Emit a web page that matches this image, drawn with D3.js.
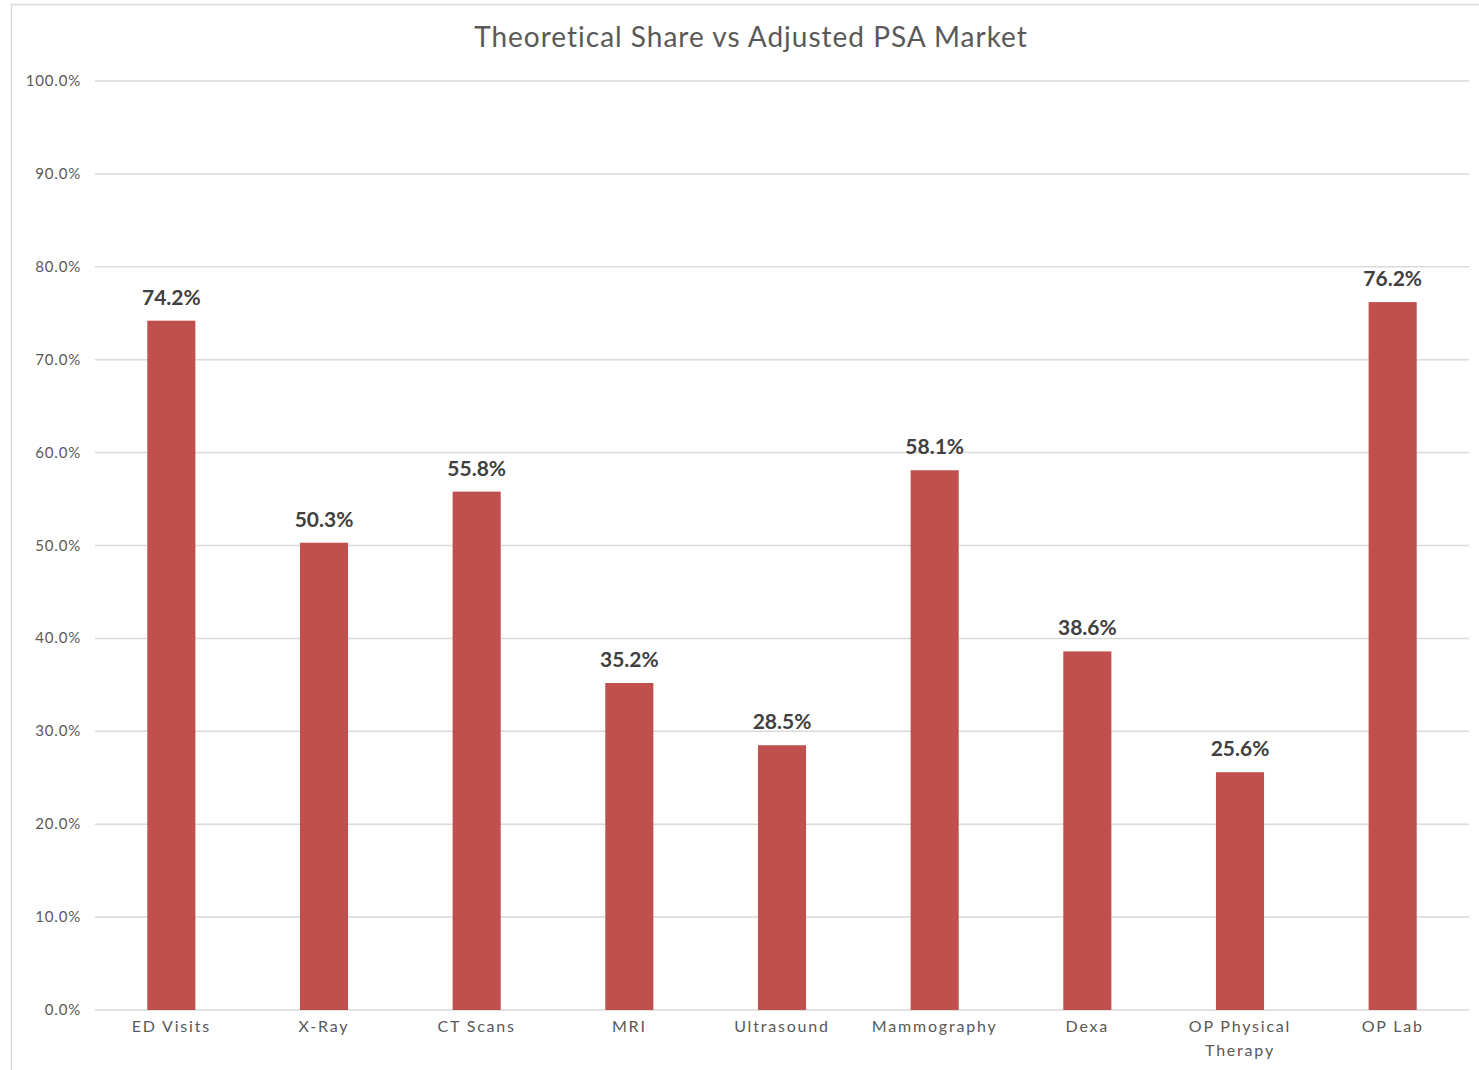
<!doctype html>
<html>
<head>
<meta charset="UTF-8">
<title>Theoretical Share vs Adjusted PSA Market</title>
<script src="https://d3js.org/d3.v7.min.js"></script>
<style>
  body { margin: 0; background: #fff; }
  text { font-family: Lato, "Noto Sans", sans-serif; }
</style>
</head>
<body>
<svg id="chart" width="1479" height="1070"></svg>
<script>
// data
var categories = ["ED Visits", "X-Ray", "CT Scans", "MRI", "Ultrasound", "Mammography", "Dexa", "OP Physical Therapy", "OP Lab"];
var shares = [74.2, 50.3, 55.8, 35.2, 28.5, 58.1, 38.6, 25.6, 76.2];
var yTicks = [0, 10, 20, 30, 40, 50, 60, 70, 80, 90, 100];

var svg = d3.select("#chart");

// outer frame
svg.append("rect")
  .attr("x", 11.5).attr("y", 4.5)
  .attr("width", 1500).attr("height", 1100)
  .attr("fill", "none").attr("stroke", "#d9d9d9").attr("stroke-width", 1.5);

var plotL = 95, plotR = 1469, plotT = 81, plotB = 1010;

var x = d3.scaleBand().domain(categories).range([plotL, plotR]).paddingInner(0.685).paddingOuter(0.3425);
var y = d3.scaleLinear().domain([0, 100]).range([plotB, plotT]);

// gridlines
svg.append("g").selectAll("line")
  .data(yTicks)
  .enter().append("line")
  .attr("x1", plotL).attr("x2", plotR)
  .attr("y1", function(d){ return y(d); })
  .attr("y2", function(d){ return y(d); })
  .attr("stroke", "#d9d9d9").attr("stroke-width", 1.5);

// y tick labels
svg.append("g").selectAll("text")
  .data(yTicks)
  .enter().append("text")
  .attr("x", 81)
  .attr("y", function(d){ return y(d) + 5; })
  .attr("text-anchor", "end")
  .attr("font-size", 15)
  .attr("letter-spacing", 0.8)
  .attr("fill", "#595959")
  .text(function(d){ return d.toFixed(1) + "%"; });

// bars
svg.append("g").selectAll("rect")
  .data(shares)
  .enter().append("rect")
  .attr("x", function(d, i){ return x(categories[i]); })
  .attr("y", function(d){ return y(d); })
  .attr("width", x.bandwidth())
  .attr("height", function(d){ return plotB - y(d); })
  .attr("fill", "#C0504D");

// value labels
svg.append("g").selectAll("text")
  .data(shares)
  .enter().append("text")
  .attr("x", function(d, i){ return x(categories[i]) + x.bandwidth() / 2; })
  .attr("y", function(d){ return y(d) - 16; })
  .attr("text-anchor", "middle")
  .attr("font-size", 21)
  .attr("font-weight", "bold")
  .attr("fill", "#404040")
  .text(function(d){ return d.toFixed(1) + "%"; });

// x labels (wrap long ones)
var xl = svg.append("g").selectAll("text")
  .data(categories)
  .enter().append("text")
  .attr("x", function(d){ return x(d) + x.bandwidth() / 2; })
  .attr("y", 1032)
  .attr("text-anchor", "middle")
  .attr("font-size", 16)
  .attr("letter-spacing", 1.8)
  .attr("fill", "#595959");

xl.each(function(d){
  var t = d3.select(this);
  var cx = t.attr("x");
  var lines = d === "OP Physical Therapy" ? ["OP Physical", "Therapy"] : [d];
  lines.forEach(function(s, k){
    t.append("tspan").attr("x", cx).attr("dy", k === 0 ? 0 : 24).text(s);
  });
});

// title
svg.append("text")
  .attr("x", 751).attr("y", 47)
  .attr("text-anchor", "middle")
  .attr("font-size", 28)
  .attr("letter-spacing", 1)
  .attr("fill", "#595959")
  .text("Theoretical Share vs Adjusted PSA Market");
</script>
</body>
</html>
